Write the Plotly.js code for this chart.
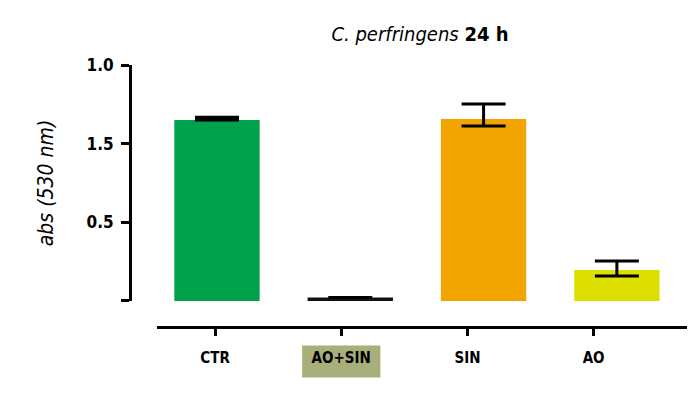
<!DOCTYPE html>
<html>
<head>
<meta charset="utf-8">
<script src="https://cdn.plot.ly/plotly-3.0.1.min.js"></script>
<style>
html,body{margin:0;padding:0;background:#fff;}
#chart{width:700px;height:396px;}
#chart svg text{font-stretch:condensed !important;}
</style>
</head>
<body>
<div id="chart"></div>
<script>
// ---- data ----
const categories = ["CTR", "AO+SIN", "SIN", "AO"];
const absValues = [1.150, 0.022, 1.157, 0.197];
const errPlus = [0.018, 0, 0.095, 0.057];
const errMinus = [0, 0, 0.045, 0.038];
const barColors = ["#00A14B", "#111111", "#F2A400", "#DDDF00"];
const yTickVals = [0, 0.5, 1.0, 1.5];
const yTickText = ["", "0.5", "1.5", "1.0"];
const highlightedCategory = "AO+SIN";

const FONT = "'DejaVu Sans Condensed', 'DejaVu Sans', sans-serif";
const idx = categories.map((c, i) => i);
const hi = categories.indexOf(highlightedCategory);

const bars = {
  type: "bar",
  x: idx,
  y: absValues,
  width: 0.64,
  marker: { color: barColors, line: { width: 0 } },
  error_y: {
    type: "data", symmetric: false,
    array: errPlus, arrayminus: errMinus,
    color: "#000", thickness: 3, width: 22
  },
  xaxis: "x2", yaxis: "y",
  hoverinfo: "skip"
};

const tickTrace = {
  type: "scatter", mode: "markers",
  x: idx, y: idx.map(() => null),
  xaxis: "x", yaxis: "y",
  showlegend: false, hoverinfo: "skip"
};

// tick axis spans 157..687 px; bar axis spans 130..687 px (shares domain, so range extended)
const layout = {
  width: 700, height: 396,
  margin: { l: 130, r: 13, t: 65, b: 20 },
  paper_bgcolor: "#fff", plot_bgcolor: "#fff",
  showlegend: false,
  font: { family: FONT, color: "#000" },
  title: {
    text: "<i>C. perfringens</i> <b>24 h</b>",
    font: { family: FONT, size: 20, color: "#000" },
    x: 0.6, xanchor: "center", xref: "container",
    y: 0.915, yanchor: "middle", yref: "container"
  },
  xaxis: {
    domain: [0.0485, 1],
    anchor: "free", position: 0.1576,
    range: [-0.46, 3.74],
    tickvals: idx, ticktext: categories,
    showline: true, linewidth: 3, linecolor: "#000",
    ticks: "outside", ticklen: 7, tickwidth: 3, tickcolor: "#000",
    showgrid: false, zeroline: false,
    tickfont: { family: FONT, size: 15, color: "#000", weight: "bold" },
    ticklabelstandoff: 9
  },
  xaxis2: {
    overlaying: "x",
    range: [-0.4499, 3.526],
    showline: false, showgrid: false, zeroline: false,
    showticklabels: false, ticks: ""
  },
  yaxis: {
    domain: [0.2412, 1],
    anchor: "free", position: 0,
    range: [0, 1.5],
    tickvals: yTickVals, ticktext: yTickText,
    showline: true, linewidth: 3, linecolor: "#000",
    ticks: "outside", ticklen: 8, tickwidth: 3, tickcolor: "#000",
    showgrid: false, zeroline: false,
    tickfont: { family: FONT, size: 17, color: "#000", weight: "bold" },
    ticklabelstandoff: 4,
    title: { text: "<i>abs (530 nm)</i>", font: { family: FONT, size: 21, color: "#000" }, standoff: 26 }
  },
  shapes: [{
    type: "rect", layer: "below",
    xref: "x", yref: "paper",
    x0: hi - 0.31, x1: hi + 0.31,
    y0: -0.005, y1: 0.098,
    fillcolor: "#A9AF7B", line: { width: 0 }
  }]
};

Plotly.newPlot("chart", [bars, tickTrace], layout, { displayModeBar: false, staticPlot: true });
</script>
</body>
</html>
